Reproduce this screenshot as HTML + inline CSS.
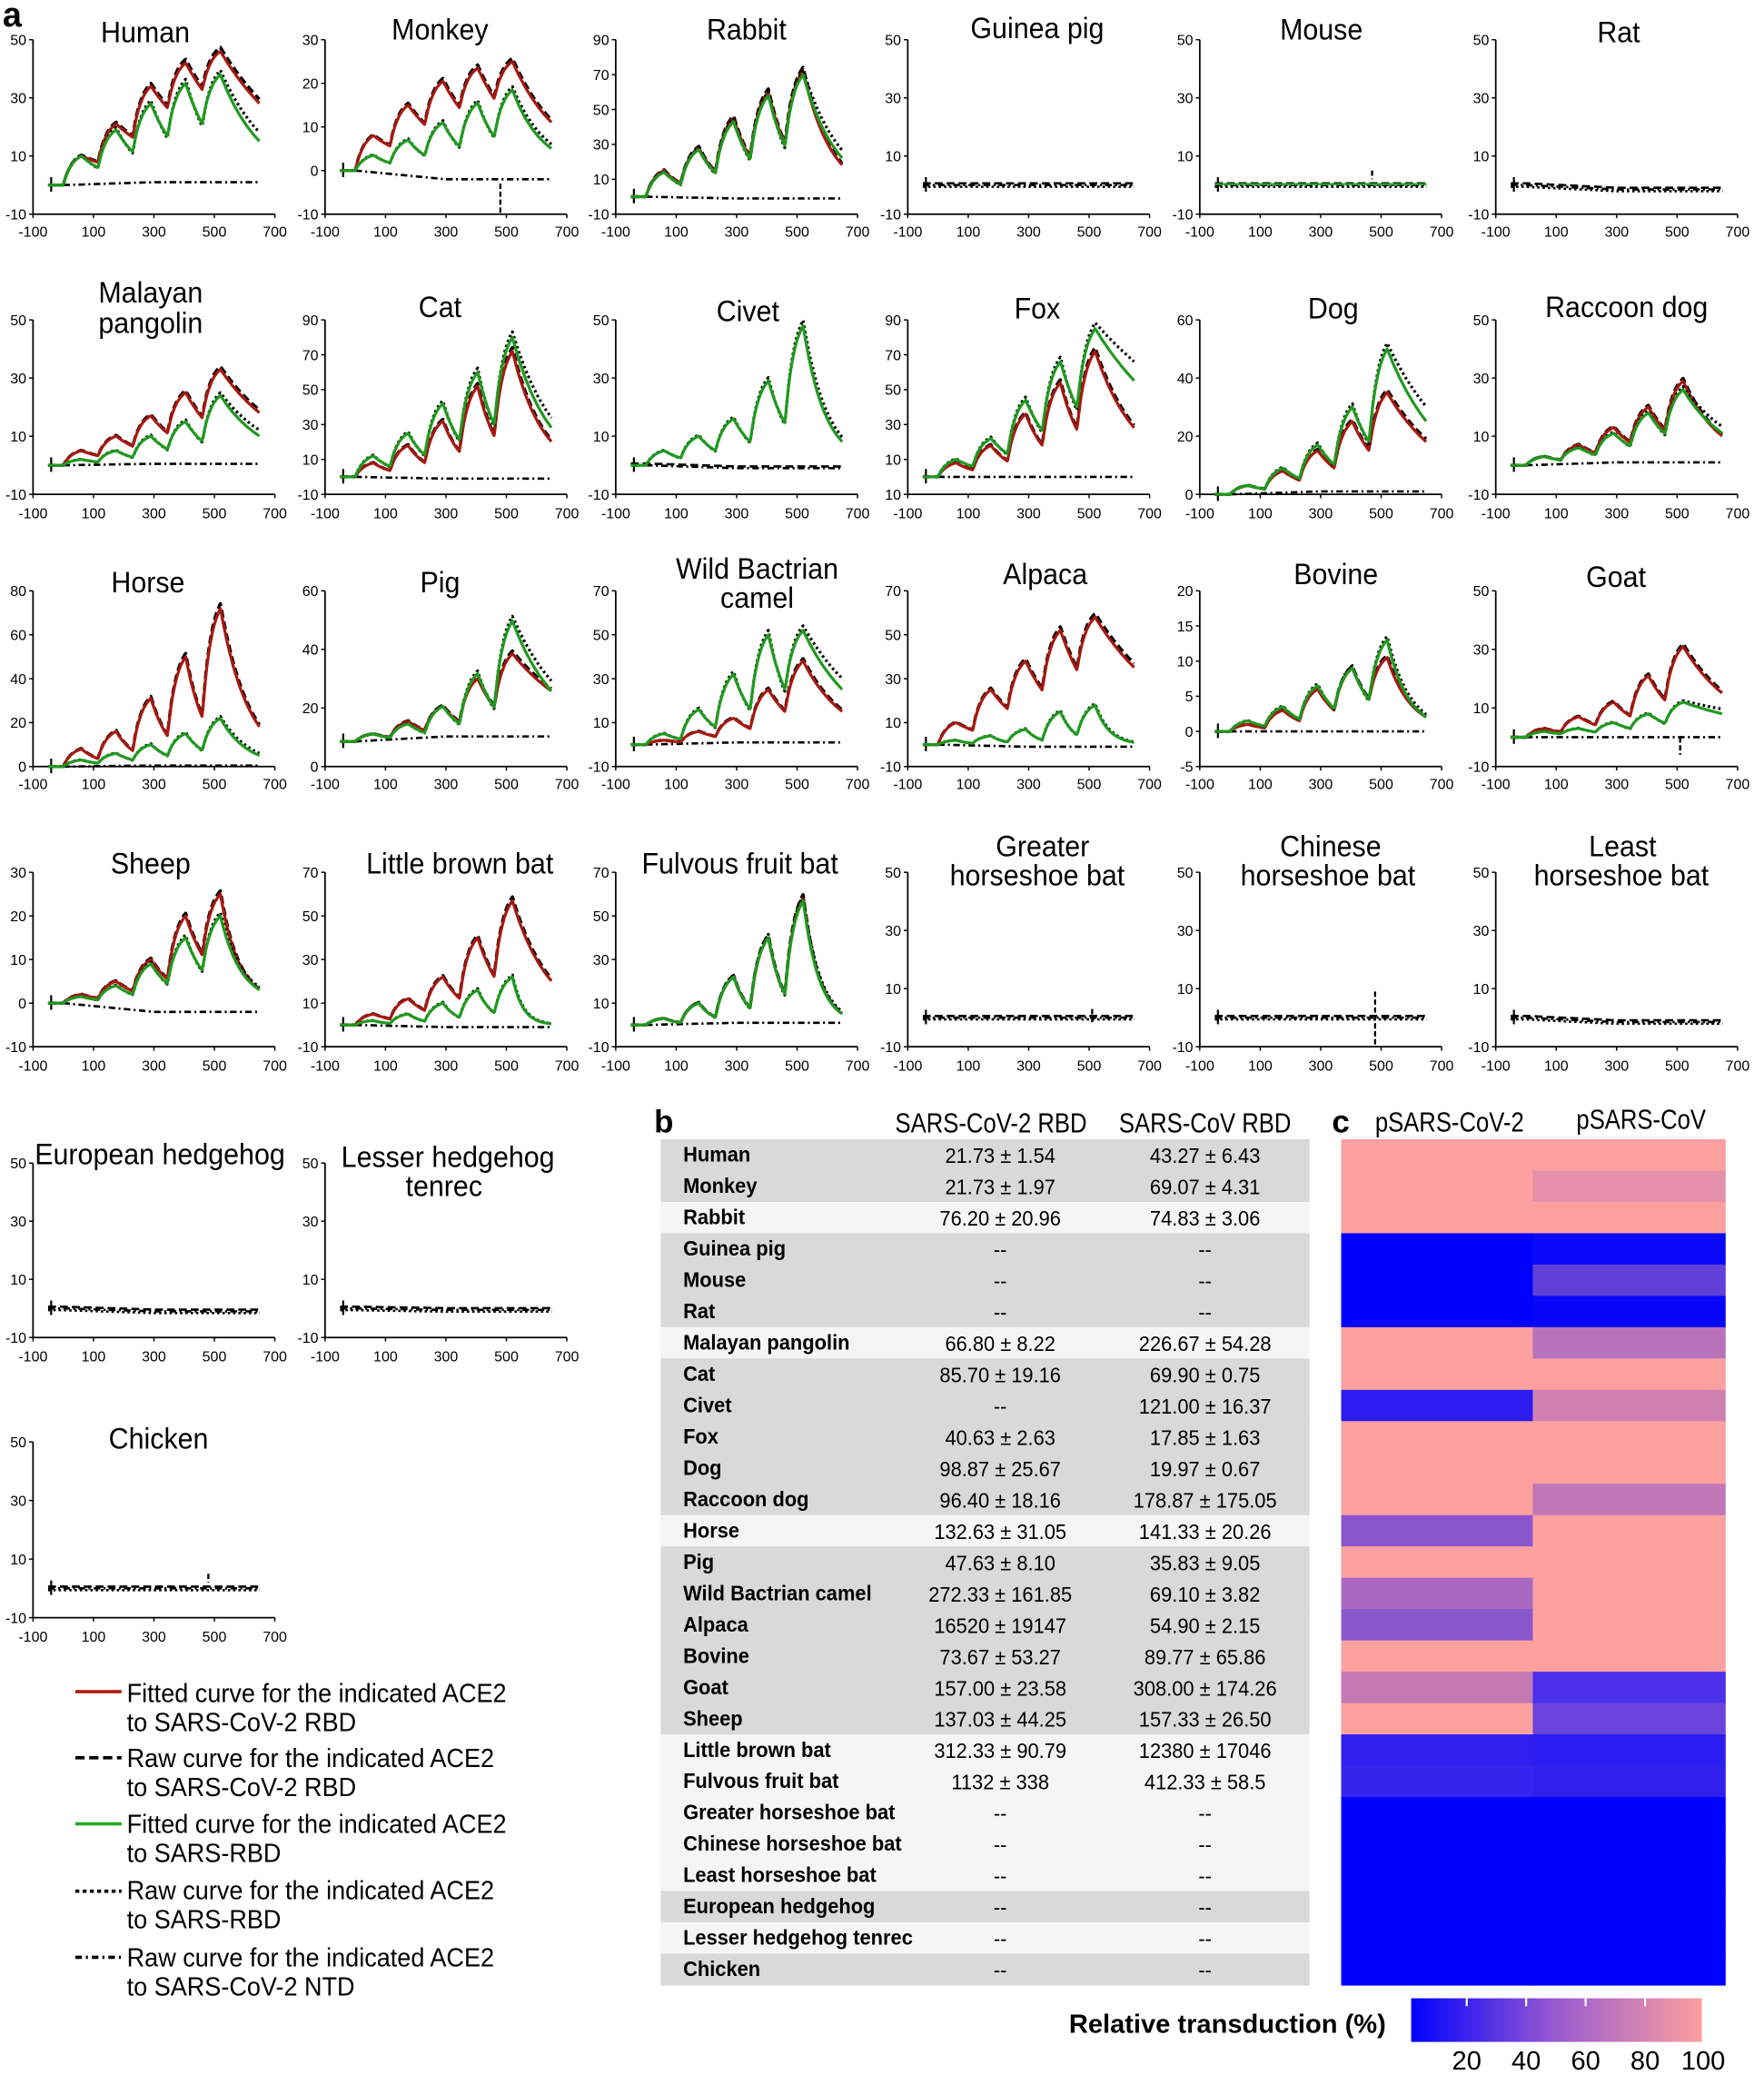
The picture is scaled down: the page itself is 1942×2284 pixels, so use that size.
<!DOCTYPE html>
<html><head><meta charset="utf-8">
<style>
html,body{margin:0;padding:0;background:#fff;}
svg{display:block;}
text{font-family:"Liberation Sans",sans-serif;fill:#000;}
.t{font-size:22px;}
.tk{font-size:11px;}
.lg{font-size:20px;}
.tn{font-size:16px;font-weight:bold;}
.tv{font-size:16px;}
.hd{font-size:21px;}
</style></head>
<body>
<svg id="s" width="1942" height="2284" viewBox="0 0 1335 1570" xmlns="http://www.w3.org/2000/svg">
<rect width="1335" height="1570" fill="#fff"/>
<text x="2" y="20" style="font-size:26px;font-weight:bold">a</text>

<g text-anchor="middle">
<text x="110" y="32" class="t c">Human</text>
<text x="333" y="30" class="t c">Monkey</text>
<text x="565" y="30" class="t c">Rabbit</text>
<text x="785" y="29" class="t c">Guinea pig</text>
<text x="1000" y="30" class="t c">Mouse</text>
<text x="1225" y="32" class="t c">Rat</text>
<text x="114" y="229" class="t c">Malayan</text>
<text x="114" y="252" class="t c">pangolin</text>
<text x="333" y="240" class="t c">Cat</text>
<text x="566" y="243" class="t c">Civet</text>
<text x="785" y="241" class="t c">Fox</text>
<text x="1009" y="241" class="t c">Dog</text>
<text x="1231" y="240" class="t c">Raccoon dog</text>
<text x="112" y="448" class="t c">Horse</text>
<text x="333" y="448" class="t c">Pig</text>
<text x="573" y="438" class="t c">Wild Bactrian</text>
<text x="573" y="460" class="t c">camel</text>
<text x="791" y="442" class="t c">Alpaca</text>
<text x="1011" y="442" class="t c">Bovine</text>
<text x="1223" y="444" class="t c">Goat</text>
<text x="114" y="661" class="t c">Sheep</text>
<text x="348" y="661" class="t c">Little brown bat</text>
<text x="560" y="661" class="t c">Fulvous fruit bat</text>
<text x="789" y="648" class="t c">Greater</text>
<text x="785" y="670" class="t c">horseshoe bat</text>
<text x="1007" y="648" class="t c">Chinese</text>
<text x="1005" y="670" class="t c">horseshoe bat</text>
<text x="1228" y="648" class="t c">Least</text>
<text x="1227" y="670" class="t c">horseshoe bat</text>
<text x="121" y="881" class="t c">European hedgehog</text>
<text x="339" y="883" class="t c">Lesser hedgehog</text>
<text x="336" y="905" class="t c">tenrec</text>
<text x="120" y="1096" class="t c">Chicken</text>
</g>
<g id="charts"></g>

<g stroke-width="2.5" fill="none">
<line x1="57" y1="1280" x2="92" y2="1280" stroke="#b01c10"/>
<line x1="57" y1="1330" x2="92" y2="1330" stroke="#000" stroke-dasharray="7,3.5"/>
<line x1="57" y1="1380" x2="92" y2="1380" stroke="#22aa22"/>
<line x1="57" y1="1431" x2="92" y2="1431" stroke="#000" stroke-dasharray="3,2.5"/>
<line x1="57" y1="1481" x2="92" y2="1481" stroke="#000" stroke-dasharray="5,3,1.5,3"/>
</g>
<g>
<text x="96" y="1288" class="lg c">Fitted curve for the indicated ACE2</text>
<text x="96" y="1310" class="lg c">to SARS-CoV-2 RBD</text>
<text x="96" y="1337" class="lg c">Raw curve for the indicated ACE2</text>
<text x="96" y="1359" class="lg c">to SARS-CoV-2 RBD</text>
<text x="96" y="1387" class="lg c">Fitted curve for the indicated ACE2</text>
<text x="96" y="1409" class="lg c">to SARS-RBD</text>
<text x="96" y="1437" class="lg c">Raw curve for the indicated ACE2</text>
<text x="96" y="1459" class="lg c">to SARS-RBD</text>
<text x="96" y="1488" class="lg c">Raw curve for the indicated ACE2</text>
<text x="96" y="1510" class="lg c">to SARS-CoV-2 NTD</text>
</g>

<text x="495" y="857" style="font-size:24px;font-weight:bold">b</text>
<text x="750" y="857" text-anchor="middle" class="hd h">SARS-CoV-2 RBD</text>
<text x="912" y="857" text-anchor="middle" class="hd h">SARS-CoV RBD</text>
<g id="tbl"></g>

<text x="1008" y="857" style="font-size:24px;font-weight:bold">c</text>
<text x="1097" y="856" text-anchor="middle" class="hd h">pSARS-CoV-2</text>
<text x="1242" y="854" text-anchor="middle" class="hd h">pSARS-CoV</text>
<g id="hm"></g>

<defs><linearGradient id="cb" x1="0" x2="1" y1="0" y2="0">
<stop offset="0" stop-color="#0000ff"/><stop offset="0.5" stop-color="#9a5ad0"/><stop offset="1" stop-color="#fca0a0"/></linearGradient></defs>
<text x="809" y="1538" style="font-size:20px;font-weight:bold">Relative transduction (%)</text>
<rect x="1068" y="1512" width="220" height="33" fill="url(#cb)"/>
<g stroke="#fff" stroke-width="1.5">
<line x1="1110" y1="1512" x2="1110" y2="1518"/><line x1="1155" y1="1512" x2="1155" y2="1518"/>
<line x1="1200" y1="1512" x2="1200" y2="1518"/><line x1="1245" y1="1512" x2="1245" y2="1518"/>
</g>
<g style="font-size:20px" text-anchor="middle">
<text x="1110" y="1566">20</text><text x="1155" y="1566">40</text><text x="1200" y="1566">60</text><text x="1245" y="1566">80</text><text x="1289" y="1566">100</text>
</g>
</svg>
<script>
(function(){
var NS="http://www.w3.org/2000/svg";
function el(tag,attrs,parent,txt){var e=document.createElementNS(NS,tag);for(var k in attrs)e.setAttribute(k,attrs[k]);if(txt!==undefined)e.textContent=txt;parent.appendChild(e);return e;}
var G=document.getElementById('charts');
var rows=[[30,162,175],[242,374,388],[447,580,593],[660,792,806],[880,1012,1026],[1091,1224,1238]];
var cols=[25,246,466,687,908,1132];
function curve(P,d,end){
  var pts=[];for(var t=-50;t<=0;t+=5)pts.push([t,0]);
  var R=0;
  for(var i=0;i<5;i++){
    var ts=i*115,R0=R,p=P[i];
    for(var u=3;u<=60;u+=3){pts.push([ts+u,R0+(p-R0)*(1-Math.exp(-u/30))/(1-Math.exp(-2))]);}
    var L=(i<4)?55:130;var kd=(i<4)?-Math.log(d)/55:Math.log(Math.max(p,0.01)/Math.max(end,0.01))/130;
    if(i==4&&end<=0)kd=0.03;
    for(var u=3;u<=L;u+=3){pts.push([ts+60+u,p*Math.exp(-kd*u)]);}
    R=p*Math.exp(-kd*L);
  }
  return pts;
}
function draw(c){
  var r=rows[c.r],ax=cols[c.c],top=r[0],bot=r[1],W=183;
  var g=el('g',{},G);
  function X(t){return ax+(t+100)/800*W;}
  function Y(v){return bot-(v-c.ymin)/(c.ymax-c.ymin)*(bot-top);}
  el('line',{x1:ax,y1:top,x2:ax,y2:bot,stroke:'#000','stroke-width':1.2},g);
  el('line',{x1:ax,y1:bot,x2:ax+W,y2:bot,stroke:'#000','stroke-width':1.2},g);
  var L=c.lab,n=L.length;
  for(var i=0;i<n;i++){var y=top+(bot-top)*i/(n-1);
    el('line',{x1:ax-3,y1:y,x2:ax,y2:y,stroke:'#000','stroke-width':1},g);
    el('text',{x:ax-5,y:y+4,'text-anchor':'end','class':'tk'},g,L[i]);}
  [-100,100,300,500,700].forEach(function(t){var x=X(t);
    el('line',{x1:x,y1:bot,x2:x,y2:bot+3,stroke:'#000','stroke-width':1},g);
    el('text',{x:x,y:r[2]+4,'text-anchor':'middle','class':'tk'},g,String(t));});
  function path(pts,st,dash,w,off,sc){var s='';pts.forEach(function(p,i){s+=(i?'L':'M')+X(p[0]).toFixed(1)+','+Y(p[1]*(sc||1)+(off||0)).toFixed(1);});
    var a={d:s,fill:'none',stroke:st,'stroke-width':w,'stroke-linejoin':'round'};if(dash)a['stroke-dasharray']=dash;el('path',a,g);}
  var ntd=[];for(var t=-50;t<=650;t+=10)ntd.push([t,(c.nd||0)*(t>0?Math.min(1,t/300):0)]);
  path(ntd,'#000','5,2.5,1.5,2.5',1.8,0);
  if(c.spike){el('line',{x1:X(c.spike[0]),y1:Y(c.spike[1]),x2:X(c.spike[0]),y2:Y(c.spike[2]),stroke:'#000','stroke-width':1.6,'stroke-dasharray':'4,2'},g);}
  el('line',{x1:X(-40),y1:Y(0)-6,x2:X(-40),y2:Y(0)+5,stroke:'#000','stroke-width':1.5},g);
  if(c.R){var rp=curve(c.R,c.dR,c.eR);path(curve(c.R.map(function(v){return v*1.03;}),c.dR,c.eR*1.05),'#000','6,3',2.4,0);path(rp,'#a81810','',2.2,0);}
  else path(ntd,'#000','6,3',1.8,0.6);
  if(c.Gr){var gp=curve(c.Gr,c.dG,c.eG);path(curve(c.Gr.map(function(v){return v*1.04;}),c.dG*0.92,c.eG*1.2),'#000','1.8,2.2',2.2,0);path(gp,'#1f9a1f','',2.2,0);}
  else {path(ntd,'#000','1.8,2.2',1.8,-0.6);}
  if(c.gflat){path(ntd,'#22a022','',1.6,0.3);}
}
var A=['50','30','10','-10'];
var C=[
{c:0,r:0,ymin:-10,ymax:50,lab:A,R:[10,21,34,42,46],dR:0.78,eR:28,Gr:[10,19,28,35,38],dG:0.6,eG:15,nd:1},
{c:1,r:0,ymin:-10,ymax:30,lab:['30','20','10','0','-10'],R:[8,15,20.5,23.5,25],dR:0.7,eR:11,Gr:[3.5,7,11,15.5,18.5],dG:0.5,eG:5,nd:-2,spike:[480,-3,-10]},
{c:2,r:0,ymin:-10,ymax:90,lab:['90','70','50','30','10','-10'],R:[15,28,45,60,72],dR:0.5,eR:18,Gr:[14,27,43,58,70],dG:0.5,eG:22,nd:-1},
{c:3,r:0,ymin:-10,ymax:50,lab:A},
{c:4,r:0,ymin:-10,ymax:50,lab:A,gflat:1,spike:[470,5,2]},
{c:5,r:0,ymin:-10,ymax:50,lab:A,nd:-1.5},
{c:0,r:1,ymin:-10,ymax:50,lab:A,R:[5,10,17,25,33],dR:0.65,eR:18,Gr:[2,5,10,15,24],dG:0.55,eG:10,nd:0.5},
{c:1,r:1,ymin:-10,ymax:90,lab:['90','70','50','30','10','-10'],R:[8,18,32,52,72],dR:0.45,eR:20,Gr:[12,25,42,60,80],dG:0.5,eG:28,nd:-1},
{c:2,r:1,ymin:-10,ymax:50,lab:A,Gr:[5,10,16,29,48],dG:0.5,eG:8,nd:-1},
{c:3,r:1,ymin:-10,ymax:90,lab:['90','70','50','30','10','10'],R:[8,18,36,54,72],dR:0.5,eR:28,Gr:[10,22,44,66,85],dG:0.6,eG:55,nd:0},
{c:4,r:1,ymin:0,ymax:60,lab:['60','40','20','0'],R:[3,8,15,25,35],dR:0.6,eR:18,Gr:[3,9,17,30,50],dG:0.6,eG:25,nd:1},
{c:5,r:1,ymin:-10,ymax:50,lab:A,R:[3,7,13,20,29],dR:0.6,eR:10,Gr:[3,6,11,18,26],dG:0.6,eG:11,nd:1},
{c:0,r:2,ymin:0,ymax:80,lab:['80','60','40','20','0'],R:[8,16,31,50,72],dR:0.45,eR:18,Gr:[3,6,10,15,22],dG:0.5,eG:5,nd:0.5},
{c:1,r:2,ymin:-10,ymax:60,lab:['60','40','20','0'],R:[3,8,14,25,35],dR:0.55,eR:20,Gr:[3,7,14,27,48],dG:0.5,eG:20,nd:2},
{c:2,r:2,ymin:-10,ymax:70,lab:['70','50','30','10','-10'],R:[2,6,12,25,38],dR:0.6,eR:15,Gr:[5,16,32,50,52],dG:0.5,eG:25,nd:1},
{c:3,r:2,ymin:-10,ymax:70,lab:['70','50','30','10','-10'],R:[10,25,38,52,58],dR:0.65,eR:35,Gr:[2,4,7,15,18],dG:0.3,eG:1,nd:-1},
{c:4,r:2,ymin:-5,ymax:20,lab:['20','15','10','5','0','-5'],R:[1,3,6,9,10.5],dR:0.5,eR:2,Gr:[1.5,3.5,6.5,9,13],dG:0.5,eG:2,nd:0},
{c:5,r:2,ymin:-10,ymax:50,lab:A,R:[3,7,12,21,31],dR:0.6,eR:15,Gr:[2,3,5,8,12],dG:0.6,eG:8,nd:0,spike:[510,0,-6]},
{c:0,r:3,ymin:-10,ymax:30,lab:['30','20','10','0','-10'],R:[2,5,10,20,25],dR:0.55,eR:3,Gr:[1.5,4,9,15,20],dG:0.5,eG:3,nd:-2},
{c:1,r:3,ymin:-10,ymax:70,lab:['70','50','30','10','-10'],R:[5,12,22,40,57],dR:0.55,eR:20,Gr:[2,5,10,16,22],dG:0.35,eG:0.5,nd:-1},
{c:2,r:3,ymin:-10,ymax:70,lab:['70','50','30','10','-10'],R:[3,10,22,40,58],dR:0.35,eR:5,Gr:[3,10,22,40,57],dG:0.35,eG:5,nd:1},
{c:3,r:3,ymin:-10,ymax:50,lab:A,spike:[510,3,-2]},
{c:4,r:3,ymin:-10,ymax:50,lab:A,spike:[480,9,-10]},
{c:5,r:3,ymin:-10,ymax:50,lab:A,nd:-1.5},
{c:0,r:4,ymin:-10,ymax:50,lab:A,nd:-1},
{c:1,r:4,ymin:-10,ymax:50,lab:A,nd:-0.5},
{c:0,r:5,ymin:-10,ymax:50,lab:A,spike:[480,5,2]}
];
C.forEach(draw);
var T=document.getElementById('tbl'),H=document.getElementById('hm');
var data=[
["Human","21.73 ± 1.54","43.27 ± 6.43",1,"p","p"],
["Monkey","21.73 ± 1.97","69.07 ± 4.31",1,"p","#e490a8"],
["Rabbit","76.20 ± 20.96","74.83 ± 3.06",0,"p","p"],
["Guinea pig","--","--",1,"b","#0808f8"],
["Mouse","--","--",1,"b","#6040d8"],
["Rat","--","--",1,"b","#0606f8"],
["Malayan pangolin","66.80 ± 8.22","226.67 ± 54.28",0,"p","#b872bb"],
["Cat","85.70 ± 19.16","69.90 ± 0.75",1,"p","p"],
["Civet","--","121.00 ± 16.37",1,"#2c1cf0","#d080b0"],
["Fox","40.63 ± 2.63","17.85 ± 1.63",1,"p","p"],
["Dog","98.87 ± 25.67","19.97 ± 0.67",1,"p","p"],
["Raccoon dog","96.40 ± 18.16","178.87 ± 175.05",1,"p","#c078b8"],
["Horse","132.63 ± 31.05","141.33 ± 20.26",0,"#8a55cc","p"],
["Pig","47.63 ± 8.10","35.83 ± 9.05",1,"p","p"],
["Wild Bactrian camel","272.33 ± 161.85","69.10 ± 3.82",1,"#a868c0","p"],
["Alpaca","16520 ± 19147","54.90 ± 2.15",1,"#8a58cc","p"],
["Bovine","73.67 ± 53.27","89.77 ± 65.86",1,"p","p"],
["Goat","157.00 ± 23.58","308.00 ± 174.26",1,"#c478b4","#4a30e8"],
["Sheep","137.03 ± 44.25","157.33 ± 26.50",1,"p","#6a44dc"],
["Little brown bat","312.33 ± 90.79","12380 ± 17046",0,"#3020f0","#2a1ef0"],
["Fulvous fruit bat","1132 ± 338","412.33 ± 58.5",0,"#3524ee","#3020ee"],
["Greater horseshoe bat","--","--",0,"b","b"],
["Chinese horseshoe bat","--","--",0,"b","b"],
["Least horseshoe bat","--","--",0,"b","b"],
["European hedgehog","--","--",1,"b","b"],
["Lesser hedgehog tenrec","--","--",0,"b","b"],
["Chicken","--","--",1,"b","b"]];
var y0=862,h=23.7;
function col(v){return v=="p"?"#fca0a0":v=="b"?"#0000ff":v;}
data.forEach(function(d,i){var y=y0+i*h;
  el('rect',{x:500,y:y,width:491,height:h+0.5,fill:d[3]?'#d9d9d9':'#f5f5f5'},T);
  el('text',{x:517,y:y+17,'class':'tn'},T,d[0]);
  el('text',{x:757,y:y+18,'class':'tv','text-anchor':'middle'},T,d[1]);
  el('text',{x:912,y:y+18,'class':'tv','text-anchor':'middle'},T,d[2]);
  el('rect',{x:1015,y:y,width:146,height:h+0.5,fill:col(d[4])},H);
  el('rect',{x:1160,y:y,width:146,height:h+0.5,fill:col(d[5])},H);
});
function squeeze(sel,f){var cs=document.querySelectorAll(sel);
for(var i=0;i<cs.length;i++){var w=cs[i].getComputedTextLength();cs[i].setAttribute('textLength',(w*f).toFixed(1));cs[i].setAttribute('lengthAdjust','spacingAndGlyphs');}}
squeeze('text.t',0.95);squeeze('text.lg',0.93);squeeze('text.h',0.84);squeeze('text.tn,text.tv',0.94);
})();
</script>
</body></html>
